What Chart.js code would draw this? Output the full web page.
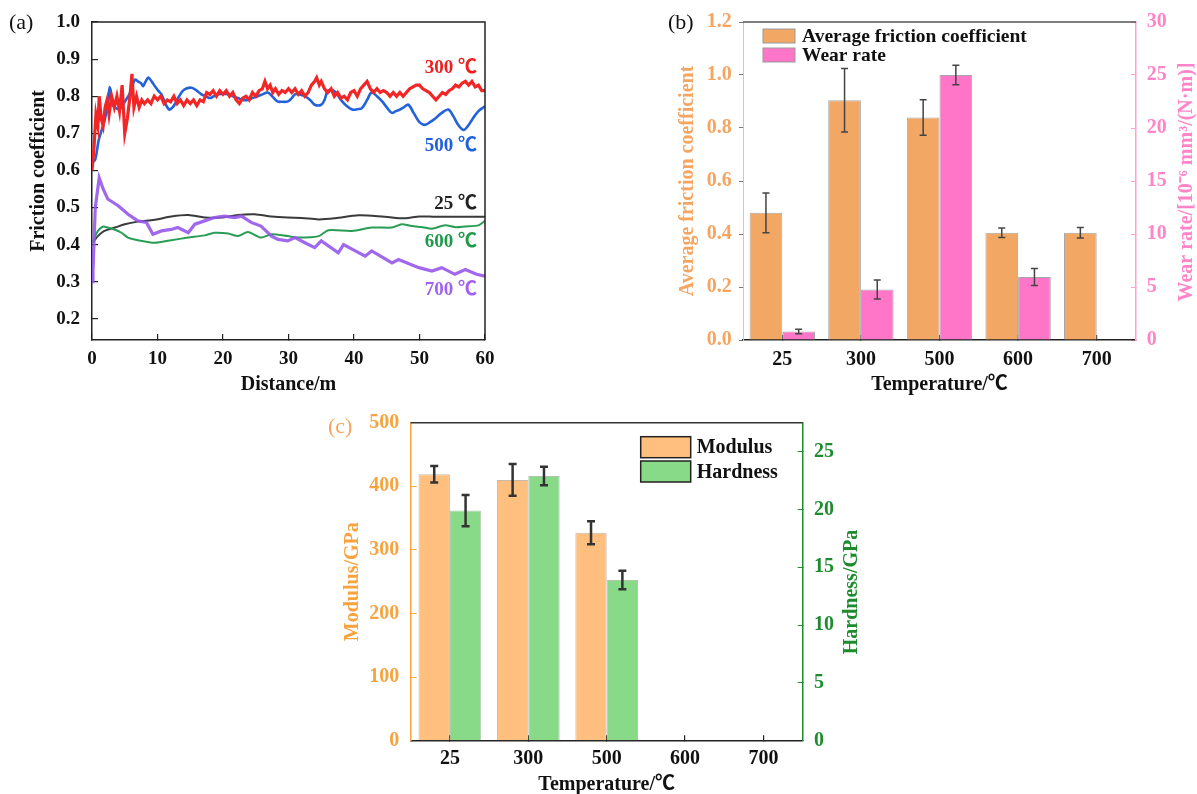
<!DOCTYPE html>
<html><head><meta charset="utf-8">
<script src="https://cdn.jsdelivr.net/npm/chart.js@4.4.1/dist/chart.umd.min.js"></script>
<style>
html,body{margin:0;padding:0;background:#fff;}
#page{position:relative;width:1197px;height:794px;overflow:hidden;background:#fff;}
.pan{position:absolute;}
canvas{display:block;}
</style></head><body>
<div id="page">
<div class="pan" style="left:0;top:0;width:500px;height:400px"><canvas id="ca" width="500" height="400" style="width:500px;height:400px"></canvas></div>
<div class="pan" style="left:600px;top:0;width:597px;height:400px"><canvas id="cb" width="597" height="400" style="width:597px;height:400px"></canvas></div>
<div class="pan" style="left:320px;top:400px;width:560px;height:400px"><canvas id="cc" width="560" height="400" style="width:560px;height:400px"></canvas></div>
</div>
<script>
// ---------- Panel (a): friction coefficient vs distance ----------
const distanceTicks = [0,10,20,30,40,50,60];
const frictionTicks = [0.2,0.3,0.4,0.5,0.6,0.7,0.8,0.9,1.0];
const curve25 = [[0,0.405],[0.3,0.41],[0.9,0.423],[1.9,0.437],[3.5,0.446],[5,0.455],[7,0.462],[9.6,0.467],[12.1,0.476],[14.7,0.48],[17.2,0.473],[19.7,0.473],[22.3,0.48],[24.8,0.482],[27.4,0.476],[29.9,0.473],[32,0.472],[34.6,0.468],[37.1,0.471],[40.7,0.479],[44.7,0.475],[47.8,0.471],[50,0.476],[52.4,0.475],[56,0.475],[60,0.475]];
const curve300 = [[0,0.60],[0.3,0.66],[0.6,0.75],[0.9,0.72],[1.1,0.80],[1.4,0.74],[1.7,0.72],[2.0,0.77],[2.3,0.79],[2.6,0.75],[3.0,0.80],[3.4,0.77],[3.8,0.80],[4.2,0.76],[4.6,0.83],[5.0,0.70],[5.4,0.74],[5.8,0.80],[6.1,0.86],[6.4,0.77],[6.8,0.80],[7.2,0.77],[7.6,0.79],[8.0,0.78],[8.5,0.79],[9.0,0.78],[9.5,0.80],[10,0.79],[10.5,0.80],[11,0.78],[11.5,0.79],[12,0.785],[12.5,0.80],[13,0.78],[13.5,0.79],[14,0.775],[14.5,0.79],[15,0.78],[15.5,0.79],[16,0.775],[16.5,0.79],[17,0.785],[17.5,0.81],[18,0.805],[18.5,0.815],[19,0.80],[19.5,0.815],[20,0.805],[20.5,0.815],[21,0.80],[21.5,0.81],[22,0.79],[22.5,0.78],[23,0.795],[23.5,0.80],[24,0.79],[24.5,0.81],[25,0.80],[25.5,0.815],[26,0.82],[26.4,0.84],[26.8,0.82],[27.2,0.83],[27.6,0.81],[28,0.82],[28.5,0.805],[29,0.815],[29.5,0.81],[30,0.82],[30.5,0.81],[31,0.82],[31.5,0.805],[32,0.815],[32.5,0.80],[33,0.81],[33.5,0.83],[34,0.84],[34.3,0.85],[34.7,0.83],[35,0.84],[35.5,0.82],[36,0.81],[36.5,0.82],[37,0.80],[37.5,0.81],[38,0.795],[38.5,0.80],[39,0.79],[39.5,0.81],[40,0.815],[40.5,0.80],[41,0.82],[41.5,0.83],[42,0.84],[42.5,0.82],[43,0.81],[43.5,0.82],[44,0.81],[44.5,0.815],[45,0.81],[45.5,0.80],[46,0.81],[46.5,0.80],[47,0.81],[47.5,0.80],[48,0.81],[48.5,0.82],[49,0.825],[49.5,0.83],[50,0.83],[50.5,0.82],[51,0.815],[51.5,0.81],[52,0.80],[52.5,0.79],[53,0.80],[53.5,0.81],[54,0.805],[54.5,0.815],[55,0.82],[55.5,0.83],[56,0.825],[56.5,0.835],[57,0.84],[57.5,0.83],[58,0.84],[58.5,0.825],[59,0.83],[59.5,0.815],[60,0.815]];
const curve500 = [[0,0.62],[0.5,0.63],[1.0,0.68],[1.5,0.71],[2.0,0.74],[2.4,0.78],[2.7,0.825],[3.0,0.78],[3.5,0.77],[4.0,0.765],[4.5,0.77],[5.0,0.785],[5.7,0.805],[6.2,0.83],[6.6,0.845],[7.0,0.84],[7.5,0.835],[7.8,0.827],[8.2,0.84],[8.6,0.85],[9.1,0.84],[9.6,0.827],[10.1,0.815],[10.6,0.805],[11.2,0.78],[11.8,0.764],[12.3,0.77],[12.6,0.777],[13.3,0.80],[14.1,0.818],[15.2,0.823],[16,0.815],[16.7,0.805],[17.4,0.80],[18,0.795],[18.6,0.80],[19.3,0.805],[20,0.807],[20.8,0.805],[21.5,0.80],[22.3,0.795],[23,0.79],[23.8,0.79],[24.5,0.795],[25.3,0.80],[26,0.805],[26.8,0.81],[27.5,0.80],[28.3,0.786],[29,0.785],[29.9,0.786],[30.5,0.795],[31,0.805],[31.7,0.805],[32.5,0.80],[33.3,0.79],[34,0.777],[35,0.777],[35.5,0.79],[36,0.814],[37,0.814],[38,0.79],[38.8,0.775],[39.7,0.764],[40.5,0.765],[41.2,0.768],[42,0.79],[42.7,0.81],[43.5,0.80],[44.3,0.786],[45,0.77],[45.8,0.755],[46.4,0.76],[47,0.764],[47.6,0.77],[48.3,0.777],[49.1,0.755],[49.9,0.732],[50.4,0.725],[50.9,0.723],[51.6,0.73],[52.4,0.74],[53.4,0.755],[54.4,0.764],[55.2,0.745],[55.9,0.723],[56.7,0.709],[57.4,0.72],[58,0.736],[59,0.76],[60,0.773]];
const curve600 = [[0,0.405],[0.3,0.415],[0.9,0.437],[1.7,0.449],[2.4,0.446],[3.5,0.44],[4.5,0.432],[5.5,0.419],[7,0.412],[9.6,0.405],[12.1,0.412],[14.7,0.419],[17.2,0.425],[18.7,0.432],[20.8,0.43],[22.3,0.423],[23.8,0.434],[25.8,0.419],[27.4,0.428],[29.9,0.423],[31.5,0.419],[34.6,0.423],[36.1,0.439],[39.7,0.437],[42.7,0.446],[45.8,0.446],[47.3,0.455],[48.8,0.45],[50.5,0.447],[51.9,0.443],[53.9,0.452],[55.5,0.447],[57,0.449],[59,0.452],[60,0.464]];
const curve700 = [[0,0.30],[0.15,0.33],[0.5,0.50],[1.1,0.58],[1.7,0.55],[2.4,0.523],[4,0.505],[5.5,0.482],[7,0.464],[8.3,0.46],[9.3,0.428],[10.6,0.437],[12.1,0.441],[13.1,0.446],[14.7,0.432],[15.7,0.455],[17.2,0.464],[18.7,0.473],[20.2,0.477],[21.8,0.473],[22.8,0.477],[24.3,0.46],[25.8,0.45],[27.4,0.423],[28.4,0.414],[29.9,0.41],[31,0.419],[32.5,0.405],[34,0.392],[35,0.41],[37.6,0.378],[38.4,0.40],[41.7,0.369],[42.7,0.383],[45.8,0.351],[46.8,0.36],[49.9,0.338],[51.9,0.329],[53.4,0.338],[55.4,0.32],[57,0.333],[58.7,0.32],[60,0.315]];

// ---------- Panel (b): average friction coefficient & wear rate ----------
const temperatures = ['25','300','500','600','700'];
const avgFriction = [0.48, 0.905, 0.84, 0.405, 0.405];
const avgFrictionErr = [0.075, 0.12, 0.067, 0.018, 0.02];
const wearRate = [0.8, 4.77, 25.0, 5.95, null];
const wearRateErr = [0.22, 0.9, 0.92, 0.8, null];
const avgTicks = [0,0.2,0.4,0.6,0.8,1.0,1.2];
const wearTicks = [0,5,10,15,20,25,30];

// ---------- Panel (c): modulus & hardness ----------
const modulus = [419, 410, 327, null, null];
const modulusErr = [13, 25, 18, null, null];
const hardness = [19.9, 22.9, 13.9, null, null];
const hardnessErr = [1.35, 0.8, 0.8, null, null];
const modulusTicks = [0,100,200,300,400,500];
const hardnessTicks = [0,5,10,15,20,25];

// ---------- helpers ----------
const SERIF = '"Liberation Serif","Times New Roman","Noto Sans CJK SC",serif';
const tickFontA = {family: SERIF, size: 19, weight: 'bold'};
const tickFont = {family: SERIF, size: 20, weight: 'bold'};
const titleFont = {family: SERIF, size: 20, weight: 'bold'};
const xy = arr => arr.map(p => ({x: p[0], y: p[1]}));
const fixedTicks = arr => s => { s.ticks = arr.map(v => ({value: v})); };
const noPad = s => { s.paddingTop = 0; s.paddingBottom = 0; s.paddingLeft = 0; s.paddingRight = 0; };
const fixW = w => s => { s.width = w; noPad(s); };
const fixH = h => s => { s.height = h; noPad(s); };

function errorBarsPlugin(color, width, cap) {
  return {
    id: 'errorBars',
    afterDatasetsDraw(chart) {
      const ctx = chart.ctx;
      chart.data.datasets.forEach((ds, di) => {
        if (!ds.errorBars) return;
        const meta = chart.getDatasetMeta(di);
        const ys = chart.scales[meta.yAxisID];
        ctx.save();
        ctx.strokeStyle = color; ctx.lineWidth = width;
        meta.data.forEach((bar, i) => {
          const v = ds.data[i], e = ds.errorBars[i];
          if (v == null || e == null) return;
          const x = bar.x, y1 = ys.getPixelForValue(v + e), y2 = ys.getPixelForValue(v - e);
          ctx.beginPath();
          ctx.moveTo(x, y1); ctx.lineTo(x, y2);
          ctx.moveTo(x - cap, y1); ctx.lineTo(x + cap, y1);
          ctx.moveTo(x - cap, y2); ctx.lineTo(x + cap, y2);
          ctx.stroke();
        });
        ctx.restore();
      });
    }
  };
}
function framePlugin(color, width, withRight) {
  return {
    id: 'frame',
    afterDraw(chart) {
      const {left, right, top, bottom} = chart.chartArea, ctx = chart.ctx;
      ctx.save(); ctx.strokeStyle = color; ctx.lineWidth = width;
      ctx.beginPath(); ctx.moveTo(left, top); ctx.lineTo(right, top);
      if (withRight) ctx.lineTo(right, bottom);
      ctx.stroke(); ctx.restore();
    }
  };
}
function textPlugin(items) {
  return {
    id: 'extraText',
    afterDraw(chart) {
      const ctx = chart.ctx;
      items.forEach(it => {
        ctx.save();
        ctx.translate(it.x, it.y);
        if (it.rot) ctx.rotate(it.rot);
        ctx.font = it.font; ctx.fillStyle = it.color;
        ctx.textAlign = it.align || 'center'; ctx.textBaseline = 'middle';
        ctx.fillText(it.text, 0, 0);
        ctx.restore();
      });
    }
  };
}
function legendPlugin(cfg) {
  return {
    id: 'boxLegend',
    afterDraw(chart) {
      const ctx = chart.ctx;
      chart.data.datasets.forEach((ds, i) => {
        const y = cfg.y + i * cfg.step;
        ctx.save();
        ctx.fillStyle = ds.backgroundColor;
        ctx.fillRect(cfg.x, y, cfg.w, cfg.h);
        ctx.strokeStyle = cfg.border; ctx.lineWidth = cfg.bw;
        ctx.strokeRect(cfg.x, y, cfg.w, cfg.h);
        ctx.fillStyle = '#111'; ctx.font = cfg.font;
        ctx.textAlign = 'left'; ctx.textBaseline = 'middle';
        ctx.fillText(ds.label, cfg.x + cfg.w + cfg.gap, y + cfg.h / 2 + 1);
        ctx.restore();
      });
    }
  };
}
function curveLabelPlugin(pos) {
  return {
    id: 'curveLabels',
    afterDraw(chart) {
      const ctx = chart.ctx, ys = chart.scales.y;
      chart.data.datasets.forEach(ds => {
        ctx.save();
        ctx.font = 'bold 19px ' + SERIF; ctx.fillStyle = ds.labelColor;
        ctx.textAlign = 'right'; ctx.textBaseline = 'middle';
        ctx.fillText(ds.label, chart.chartArea.right - 8, ys.getPixelForValue(pos[ds.label]));
        ctx.restore();
      });
    }
  };
}
const base = {responsive: false, animation: false, events: []};

// ---------- Chart (a) ----------
const labelValueA = {'300 ℃': 0.876, '500 ℃': 0.665, '25 ℃': 0.508, '600 ℃': 0.408, '700 ℃': 0.278};
new Chart(document.getElementById('ca'), {
  type: 'line',
  data: {datasets: [
    {label: '700 ℃', data: xy(curve700), borderColor: 'rgba(150,88,235,0.9)', labelColor: '#a262f0', borderWidth: 3.2, tension: 0, pointRadius: 0},
    {label: '300 ℃', data: xy(curve300), borderColor: '#f22626', labelColor: '#f01e1e', borderWidth: 3.2, tension: 0, pointRadius: 0},
    {label: '500 ℃', data: xy(curve500), borderColor: '#2262da', labelColor: '#1f5fe0', borderWidth: 2.6, tension: 0.35, pointRadius: 0},
    {label: '600 ℃', data: xy(curve600), borderColor: '#2a9d55', labelColor: '#1f9a4a', borderWidth: 2, tension: 0.25, pointRadius: 0},
    {label: '25 ℃', data: xy(curve25), borderColor: '#3a3a3a', labelColor: '#222', borderWidth: 2, tension: 0.3, pointRadius: 0}
  ]},
  options: Object.assign({}, base, {
    layout: {padding: {top: 22, right: 15, left: 0, bottom: 0}},
    plugins: {legend: {display: false}, tooltip: {enabled: false}},
    scales: {
      x: {type: 'linear', min: 0, max: 60, afterBuildTicks: fixedTicks(distanceTicks), afterFit: fixH(60),
        grid: {drawOnChartArea: false, tickLength: -6, color: '#222', lineWidth: 1.2},
        border: {color: '#222', width: 1.5},
        ticks: {padding: 13.4, color: '#111', font: tickFontA, maxRotation: 0, autoSkip: false},
        title: {display: true, text: 'Distance/m', color: '#111', font: titleFont, padding: {top: 0, bottom: 3}}},
      y: {min: 0.143, max: 1.0, afterBuildTicks: fixedTicks(frictionTicks), afterFit: fixW(92),
        grid: {drawOnChartArea: false, tickLength: -6, color: '#222', lineWidth: 1.2},
        border: {color: '#222', width: 1.5},
        ticks: {padding: 18, color: '#111', font: tickFontA, callback: v => v.toFixed(1)}}
    }
  }),
  plugins: [framePlugin('#222', 1.5, true), curveLabelPlugin(labelValueA), textPlugin([
    {text: '(a)', x: 9, y: 23, align: 'left', font: '22px ' + SERIF, color: '#111'},
    {text: 'Friction coefficient', x: 39, y: 171, rot: -Math.PI / 2, font: 'bold 20px ' + SERIF, color: '#111'}
  ])]
});

// ---------- Chart (b) ----------
new Chart(document.getElementById('cb'), {
  type: 'bar',
  data: {labels: temperatures, datasets: [
    {label: 'Average friction coefficient', data: avgFriction, errorBars: avgFrictionErr, yAxisID: 'y',
     backgroundColor: '#f2a765', borderColor: '#a8a8a8', borderWidth: 1, categoryPercentage: 0.832, barPercentage: 1},
    {label: 'Wear rate', data: wearRate, errorBars: wearRateErr, yAxisID: 'y1',
     backgroundColor: '#ff76c8', borderColor: '#a8a8a8', borderWidth: 1, categoryPercentage: 0.832, barPercentage: 1}
  ]},
  options: Object.assign({}, base, {
    layout: {padding: {top: 22, right: 0, left: 0, bottom: 0}},
    plugins: {legend: {display: false}, tooltip: {enabled: false}},
    scales: {
      x: {afterFit: fixH(60),
        grid: {offset: false, drawOnChartArea: false, tickLength: -5, color: '#222', lineWidth: 1.2},
        border: {color: '#222', width: 1.5},
        ticks: {padding: 12.8, color: '#111', font: tickFont},
        title: {display: true, text: 'Temperature/℃', color: '#111', font: titleFont, padding: {top: 0, bottom: 3}}},
      y: {position: 'left', min: 0, max: 1.2, afterBuildTicks: fixedTicks(avgTicks), afterFit: fixW(143),
        grid: {drawOnChartArea: false, tickLength: 4, color: '#777'},
        border: {color: '#f6c08c', width: 1},
        ticks: {padding: 7.3, color: '#f5a560', font: tickFont, callback: v => v.toFixed(1)},
        title: {display: true, text: 'Average friction coefficient', color: '#f5a560', font: titleFont, padding: {top: 76, bottom: 0}}},
      y1: {position: 'right', min: 0, max: 30, afterBuildTicks: fixedTicks(wearTicks), afterFit: fixW(61),
        grid: {drawOnChartArea: false, tickLength: -5, color: '#ff9fd2'},
        border: {color: '#ff9fd2', width: 1.5},
        ticks: {padding: 15.7, color: '#ff85c8', font: tickFont}}
    }
  }),
  plugins: [errorBarsPlugin('#444', 1.5, 3.5), framePlugin('#555', 1.5, false),
    legendPlugin({x: 163, y: 29, w: 32, h: 14, step: 19, gap: 7, border: '#999', bw: 1, font: 'bold 19.5px ' + SERIF}),
    textPlugin([
      {text: '(b)', x: 68, y: 23, align: 'left', font: '22px ' + SERIF, color: '#111'},
      {text: 'Wear rate/[10⁻⁶ mm³/(N·m)]', x: 587, y: 182, rot: -Math.PI / 2, font: 'bold 20px ' + SERIF, color: '#ff85c8'}
    ])]
});

// ---------- Chart (c) ----------
new Chart(document.getElementById('cc'), {
  type: 'bar',
  data: {labels: temperatures, datasets: [
    {label: 'Modulus', data: modulus, errorBars: modulusErr, yAxisID: 'y',
     backgroundColor: '#ffc07f', borderColor: 'rgba(160,140,120,0.6)', borderWidth: 1, categoryPercentage: 0.8, barPercentage: 1},
    {label: 'Hardness', data: hardness, errorBars: hardnessErr, yAxisID: 'y1',
     backgroundColor: '#88da88', borderColor: 'rgba(120,160,120,0.6)', borderWidth: 1, categoryPercentage: 0.8, barPercentage: 1}
  ]},
  options: Object.assign({}, base, {
    layout: {padding: {top: 22.7, right: 0, left: 0, bottom: 0}},
    plugins: {legend: {display: false}, tooltip: {enabled: false}},
    scales: {
      x: {afterFit: fixH(59.3),
        grid: {offset: false, drawOnChartArea: false, tickLength: -5.5, color: '#222', lineWidth: 1.2},
        border: {color: '#222', width: 1.5},
        ticks: {padding: 11.8, color: '#111', font: tickFont},
        title: {display: true, text: 'Temperature/℃', color: '#111', font: titleFont, padding: {top: 0, bottom: 3}}},
      y: {position: 'left', min: 0, max: 500, afterBuildTicks: fixedTicks(modulusTicks), afterFit: fixW(90.7),
        grid: {drawOnChartArea: false, tickLength: -6, color: '#f7a440'},
        border: {color: '#f7a440', width: 1.5},
        ticks: {padding: 17.4, color: '#f7a440', font: tickFont},
        title: {display: true, text: 'Modulus/GPa', color: '#f7a440', font: titleFont, padding: {top: 21, bottom: 0}}},
      y1: {position: 'right', min: 0, max: 27.5, afterBuildTicks: fixedTicks(hardnessTicks), afterFit: fixW(77.3),
        grid: {drawOnChartArea: false, tickLength: -5, color: '#1e8c2e'},
        border: {color: '#1e8c2e', width: 1.5},
        ticks: {padding: 16.3, color: '#1e8c2e', font: tickFont}}
    }
  }),
  plugins: [errorBarsPlugin('#333', 2.5, 4), framePlugin('#333', 1.5, false),
    legendPlugin({x: 320.7, y: 36.7, w: 50, h: 21, step: 24.3, gap: 6, border: '#222', bw: 1.5, font: 'bold 20px ' + SERIF}),
    textPlugin([
      {text: '(c)', x: 8, y: 27, align: 'left', font: '22px ' + SERIF, color: '#f5a55a'},
      {text: 'Hardness/GPa', x: 532, y: 192, rot: -Math.PI / 2, font: 'bold 20px ' + SERIF, color: '#1e8c2e'}
    ])]
});
</script>
</body></html>
